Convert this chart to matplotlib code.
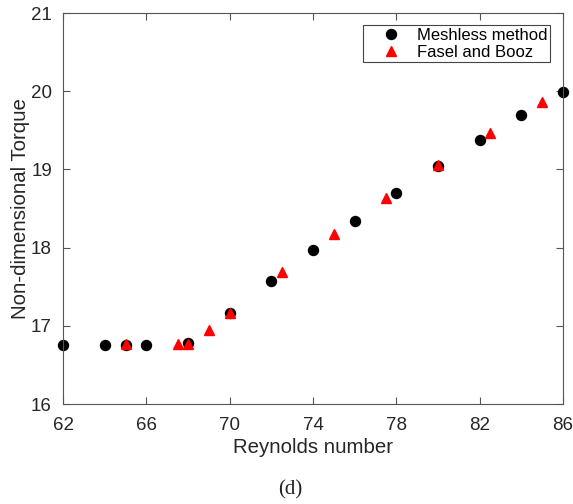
import matplotlib
matplotlib.use('Agg')
import matplotlib.pyplot as plt

# Meshless method
re_mesh = [62, 64, 65, 66, 68, 70, 72, 74, 76, 78, 80, 82, 84, 86]
tq_mesh = [16.75, 16.75, 16.75, 16.75, 16.78, 17.16, 17.57, 17.97, 18.34, 18.70, 19.04, 19.37, 19.69, 19.99]

# Fasel and Booz
re_fb = [65, 67.5, 68, 69, 70, 72.5, 75, 77.5, 80, 82.5, 85]
tq_fb = [16.77, 16.77, 16.77, 16.94, 17.17, 17.69, 18.17, 18.64, 19.06, 19.47, 19.86]

xticks = [62, 66, 70, 74, 78, 82, 86]
yticks = [16, 17, 18, 19, 20, 21]

plt.rcParams['font.family'] = ['Liberation Sans', 'DejaVu Sans']
txt = '#262626'

fig = plt.figure(figsize=(5.73, 5.04), dpi=100)
ax = fig.add_axes([0.110, 0.1984, 0.8725, 0.7758])

ax.plot(re_mesh, tq_mesh, 'o', color='black', markersize=7.2, label='Meshless method',
        zorder=2, clip_on=False)
ax.plot(re_fb, tq_fb, '^', color='red', markersize=6.8, label='Fasel and Booz',
        zorder=3, clip_on=False)

ax.set_xlim(62, 86)
ax.set_ylim(16, 21)
ax.set_xticks(xticks)
ax.set_yticks(yticks)
ax.tick_params(direction='in', length=5, width=0.8, top=True, right=True,
               labelsize=13.5, colors=txt, color='#555555')
ax.tick_params(axis='x', pad=9.5)
ax.tick_params(axis='y', pad=8)
for s in ax.spines.values():
    s.set_color('#555555')
    s.set_linewidth(0.8)

ax.set_xlabel('Reynolds number', fontsize=14.7, color=txt, labelpad=3)
ax.set_ylabel('Non-dimensional Torque', fontsize=14.7, color=txt, labelpad=1)

leg = ax.legend(loc='upper right', bbox_to_anchor=(0.974, 0.969), borderaxespad=0,
                fontsize=12, fancybox=False, framealpha=1, edgecolor='#444444',
                borderpad=0.17, handlelength=3.0, handletextpad=0.05, labelspacing=0.1)
leg.get_frame().set_linewidth(0.8)

fig.text(0.507, 0.018, '(d)', fontsize=15, family='Liberation Serif', ha='center',
         va='baseline', color='#222222')

fig.savefig('out.png', dpi=100)
